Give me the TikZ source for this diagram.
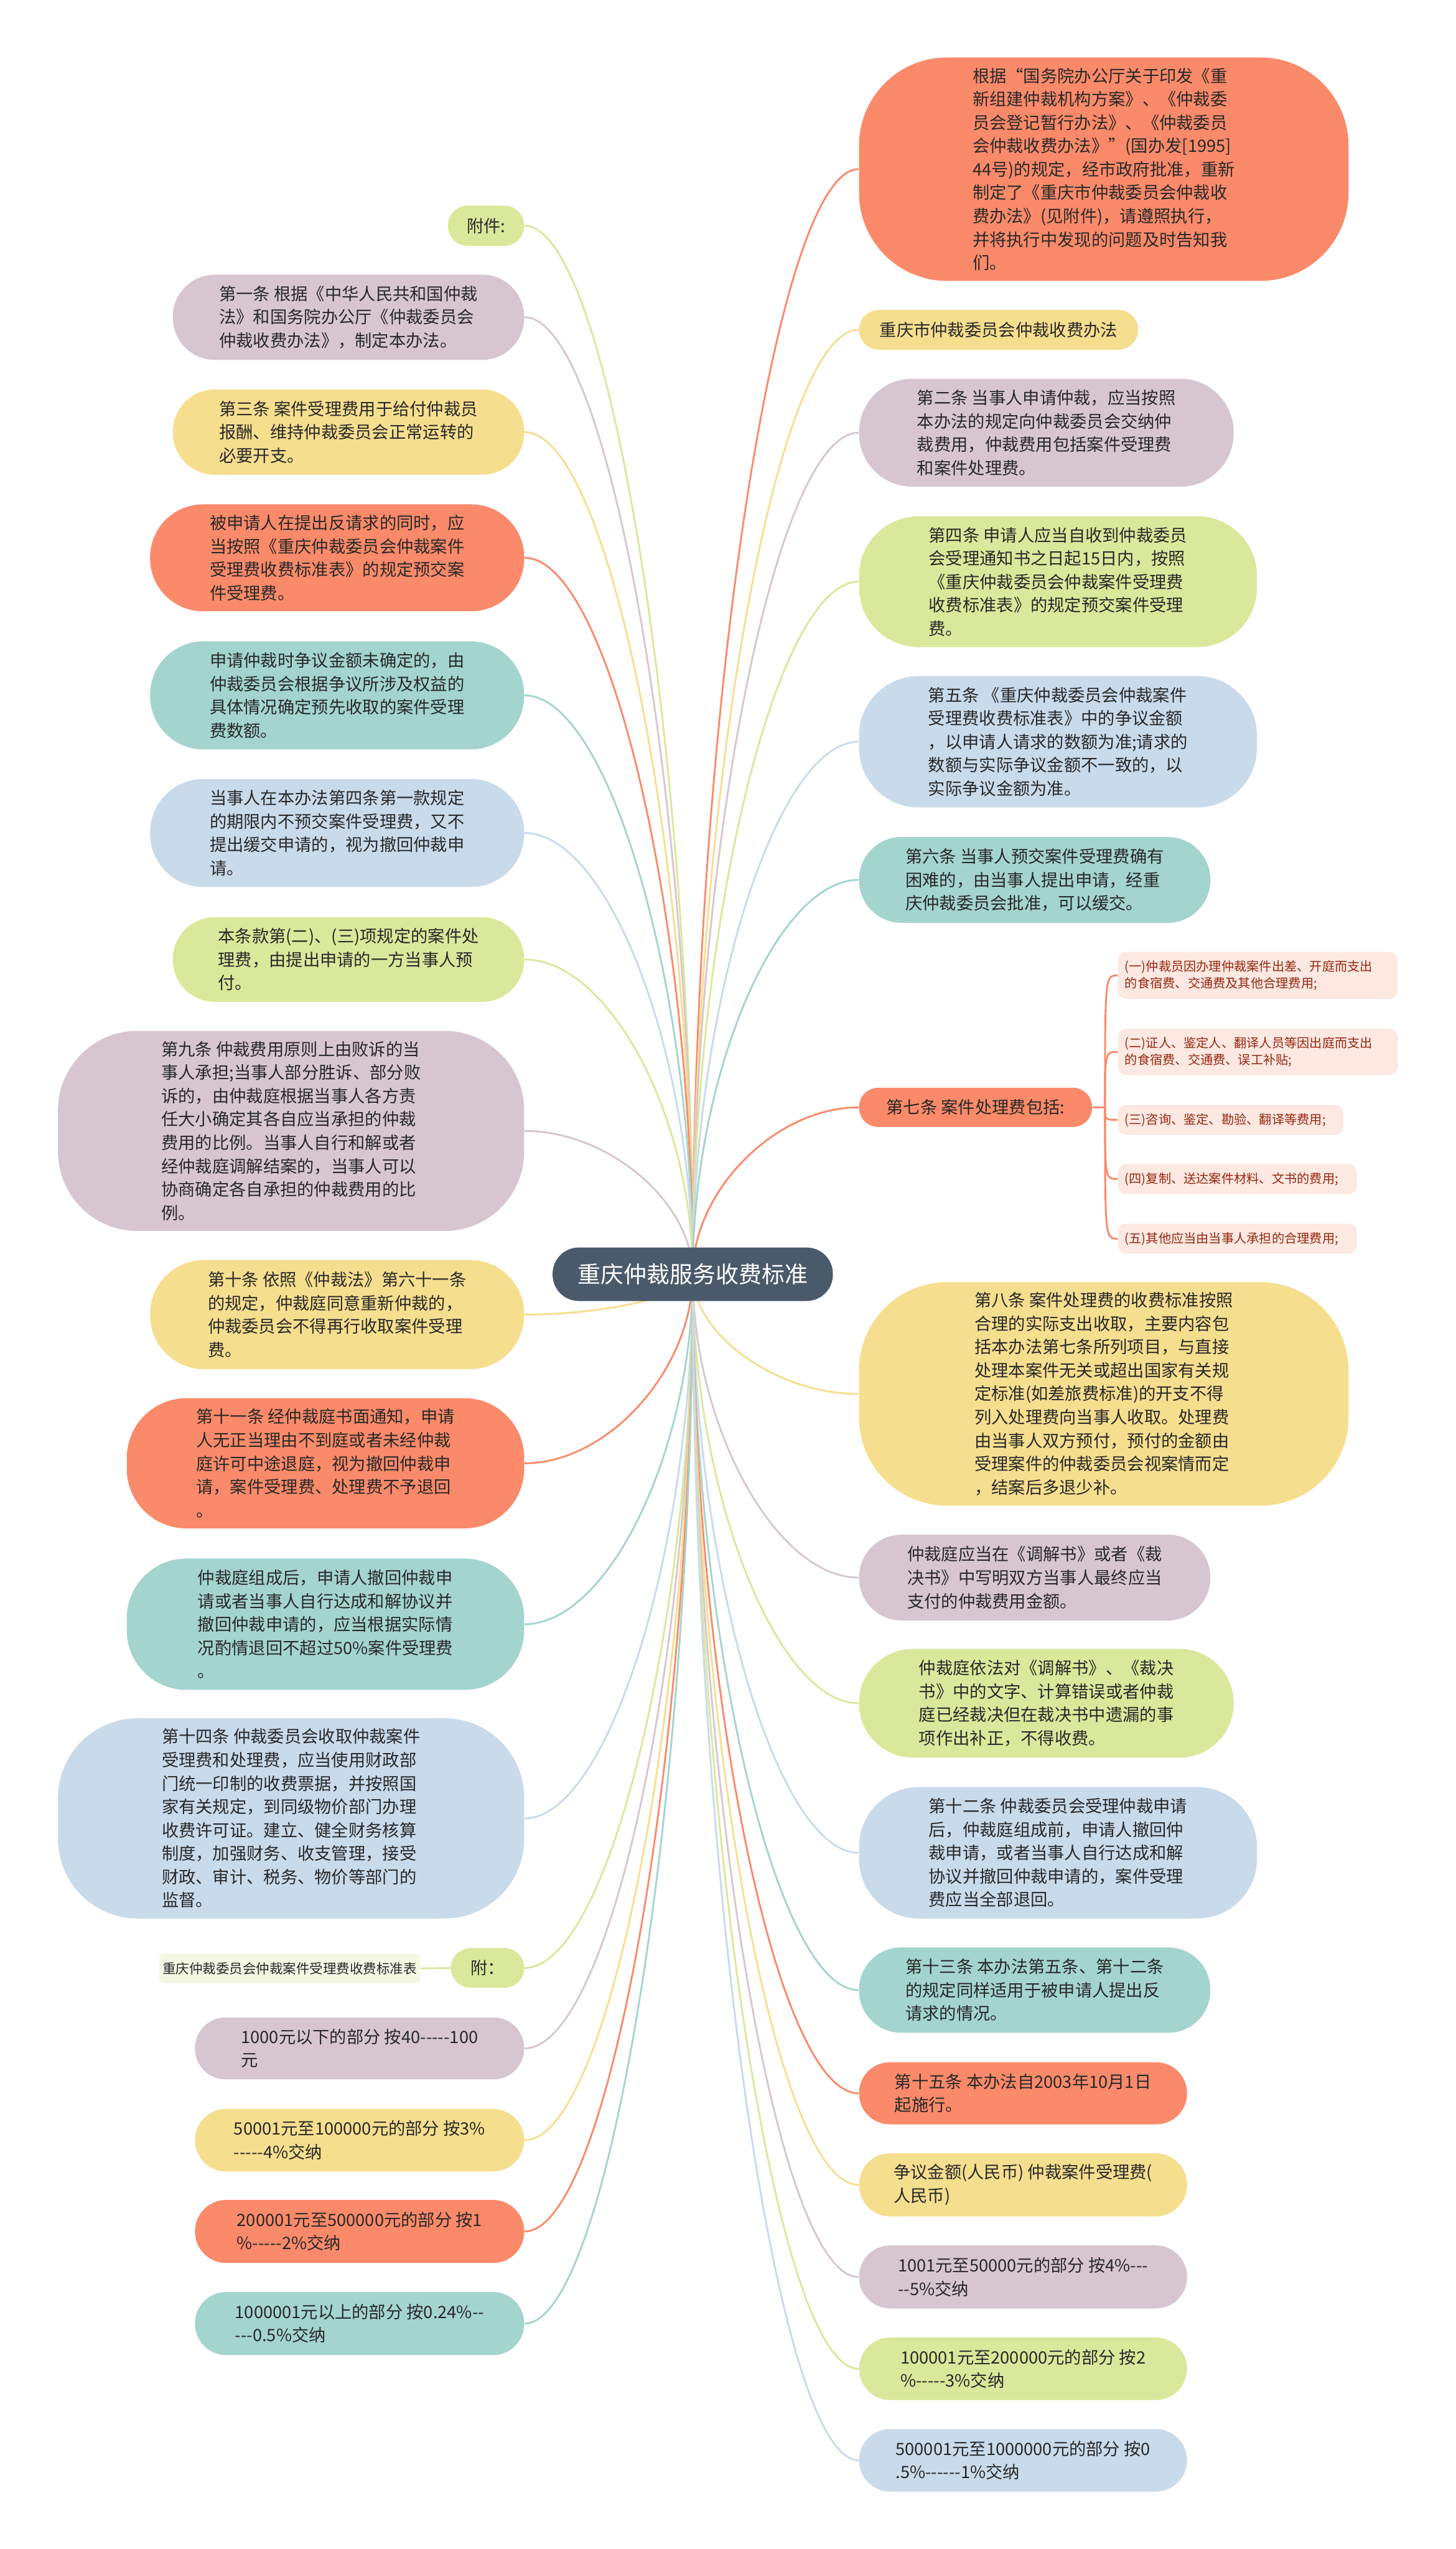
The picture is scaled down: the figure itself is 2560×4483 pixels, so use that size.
\documentclass[tikz,border=0pt]{standalone}
\usepackage{fontspec}
\setmainfont{Noto Sans CJK SC}[Ligatures=TeXOff]
\usetikzlibrary{calc}
\pgfdeclarelayer{bg}
\pgfsetlayers{bg,main}
\definecolor{corange}{RGB}{250,138,106}
\definecolor{cyellow}{RGB}{246,222,143}
\definecolor{cmauve}{RGB}{215,198,208}
\definecolor{cteal}{RGB}{164,212,206}
\definecolor{cblue}{RGB}{201,218,235}
\definecolor{cgreen}{RGB}{218,232,155}
\definecolor{croot}{RGB}{75,90,106}
\definecolor{cpink}{RGB}{253,232,226}
\definecolor{csub}{RGB}{150,40,15}
\definecolor{ctable}{RGB}{243,247,228}
\definecolor{ctext}{RGB}{40,40,40}

\begin{document}
\begin{tikzpicture}[x=0.1mm,y=-0.1mm,
  leaf/.style={fill=#1, align=left, inner sep=0pt, text=ctext, font=\fontsize{8.5}{11.7}\selectfont},
  item/.style={fill=cpink, anchor=west, align=left, inner xsep=1.2mm, inner ysep=0pt, rounded corners=1.5mm, text=csub, font=\fontsize{6.3}{8.5}\selectfont},
  lk/.style={draw=#1, line width=0.9pt},
  branch/.style={to path={.. controls ($(\tikztostart)!0.5!(\tikztostart |- \tikztotarget)$) and ($(\tikztotarget)!0.5!(\tikztostart |- \tikztotarget)$) .. (\tikztotarget)}},
  fork/.style={to path={.. controls (\tikztostart |- \tikztotarget) .. (\tikztotarget)}}]
\useasboundingbox (0,0) rectangle (2560,4483);
\node[fill=croot, text=white, inner sep=0pt, minimum width=49.3mm, minimum height=9.4mm, rounded corners=4.6mm, font=\fontsize{11.5}{14}\selectfont] (root) at (1218.5,2241) {重庆仲裁服务收费标准};
\node[leaf=cgreen, minimum width=13.4mm, minimum height=7.1mm, rounded corners=3.5mm] (l0) at (855,397) {附件:};
\node[leaf=cmauve, minimum width=61.8mm, minimum height=15mm, rounded corners=7.4mm] (l1) at (613,558) {第一条 根据《中华人民共和国仲裁\\法》和国务院办公厅《仲裁委员会\\仲裁收费办法》，制定本办法。};
\node[leaf=cyellow, minimum width=61.8mm, minimum height=15mm, rounded corners=7.4mm] (l2) at (613,760) {第三条 案件受理费用于给付仲裁员\\报酬、维持仲裁委员会正常运转的\\必要开支。};
\node[leaf=corange, minimum width=65.8mm, minimum height=18.8mm, rounded corners=9.3mm] (l3) at (593,981) {被申请人在提出反请求的同时，应\\当按照《重庆仲裁委员会仲裁案件\\受理费收费标准表》的规定预交案\\件受理费。};
\node[leaf=cteal, minimum width=65.8mm, minimum height=19mm, rounded corners=9.4mm] (l4) at (593,1223) {申请仲裁时争议金额未确定的，由\\仲裁委员会根据争议所涉及权益的\\具体情况确定预先收取的案件受理\\费数额。};
\node[leaf=cblue, minimum width=65.8mm, minimum height=19mm, rounded corners=9.4mm] (l5) at (593,1465) {当事人在本办法第四条第一款规定\\的期限内不预交案件受理费，又不\\提出缓交申请的，视为撤回仲裁申\\请。};
\node[leaf=cgreen, minimum width=61.8mm, minimum height=14.9mm, rounded corners=7.4mm] (l6) at (613,1687.5) {本条款第(二)、(三)项规定的案件处\\理费，由提出申请的一方当事人预\\付。};
\node[leaf=cmauve, minimum width=82mm, minimum height=35.2mm, rounded corners=14mm] (l7) at (512,1989) {第九条 仲裁费用原则上由败诉的当\\事人承担;当事人部分胜诉、部分败\\诉的，由仲裁庭根据当事人各方责\\任大小确定其各自应当承担的仲裁\\费用的比例。当事人自行和解或者\\经仲裁庭调解结案的，当事人可以\\协商确定各自承担的仲裁费用的比\\例。};
\node[leaf=cyellow, minimum width=65.8mm, minimum height=19.2mm, rounded corners=9.5mm] (l8) at (593,2312) {第十条 依照《仲裁法》第六十一条\\的规定，仲裁庭同意重新仲裁的，\\仲裁委员会不得再行收取案件受理\\费。};
\node[leaf=corange, minimum width=69.9mm, minimum height=22.9mm, rounded corners=10.5mm] (l9) at (572.5,2573.5) {第十一条 经仲裁庭书面通知，申请\\人无正当理由不到庭或者未经仲裁\\庭许可中途退庭，视为撤回仲裁申\\请，案件受理费、处理费不予退回\\。};
\node[leaf=cteal, minimum width=69.9mm, minimum height=23.1mm, rounded corners=10.5mm] (l10) at (572.5,2856.5) {仲裁庭组成后，申请人撤回仲裁申\\请或者当事人自行达成和解协议并\\撤回仲裁申请的，应当根据实际情\\况酌情退回不超过50\%案件受理费\\。};
\node[leaf=cblue, minimum width=82mm, minimum height=35.2mm, rounded corners=14mm] (l11) at (512,3198) {第十四条 仲裁委员会收取仲裁案件\\受理费和处理费，应当使用财政部\\门统一印制的收费票据，并按照国\\家有关规定，到同级物价部门办理\\收费许可证。建立、健全财务核算\\制度，加强财务、收支管理，接受\\财政、审计、税务、物价等部门的\\监督。};
\node[leaf=cgreen, minimum width=12.9mm, minimum height=7mm, rounded corners=3.5mm] (l12) at (857.5,3461) {附：};
\node[fill=ctable, text=ctext, inner sep=0pt, minimum width=45.9mm, minimum height=5.2mm, rounded corners=0.8mm, font=\fontsize{6.7}{8}\selectfont] (l12t) at (509.5,3462) {重庆仲裁委员会仲裁案件受理费收费标准表};
\node[leaf=cmauve, minimum width=57.9mm, minimum height=10.9mm, rounded corners=5.4mm] (l13) at (632.5,3602.5) {1000元以下的部分 按40-----100\\元};
\node[leaf=cyellow, minimum width=57.9mm, minimum height=11mm, rounded corners=5.5mm] (l14) at (632.5,3764) {50001元至100000元的部分 按3\%\\-----4\%交纳};
\node[leaf=corange, minimum width=57.9mm, minimum height=11.1mm, rounded corners=5.5mm] (l15) at (632.5,3924.5) {200001元至500000元的部分 按1\\\%-----2\%交纳};
\node[leaf=cteal, minimum width=57.9mm, minimum height=11.1mm, rounded corners=5.5mm] (l16) at (632.5,4086.5) {1000001元以上的部分 按0.24\%--\\---0.5\%交纳};
\node[leaf=corange, minimum width=86.1mm, minimum height=39.3mm, rounded corners=15.5mm] (r0) at (1941.5,297.5) {根据“国务院办公厅关于印发《重\\新组建仲裁机构方案》、《仲裁委\\员会登记暂行办法》、《仲裁委员\\会仲裁收费办法》”(国办发[1995]\\44号)的规定，经市政府批准，重新\\制定了《重庆市仲裁委员会仲裁收\\费办法》(见附件)，请遵照执行，\\并将执行中发现的问题及时告知我\\们。};
\node[leaf=cyellow, minimum width=49.1mm, minimum height=7mm, rounded corners=3.5mm] (r1) at (1756.5,580) {重庆市仲裁委员会仲裁收费办法};
\node[leaf=cmauve, minimum width=65.9mm, minimum height=19mm, rounded corners=9.4mm] (r2) at (1840.5,761) {第二条 当事人申请仲裁，应当按照\\本办法的规定向仲裁委员会交纳仲\\裁费用，仲裁费用包括案件受理费\\和案件处理费。};
\node[leaf=cgreen, minimum width=70mm, minimum height=23mm, rounded corners=10.5mm] (r3) at (1861,1023) {第四条 申请人应当自收到仲裁委员\\会受理通知书之日起15日内，按照\\《重庆仲裁委员会仲裁案件受理费\\收费标准表》的规定预交案件受理\\费。};
\node[leaf=cblue, minimum width=70mm, minimum height=23.1mm, rounded corners=10.5mm] (r4) at (1861,1304.5) {第五条 《重庆仲裁委员会仲裁案件\\受理费收费标准表》中的争议金额\\，以申请人请求的数额为准;请求的\\数额与实际争议金额不一致的，以\\实际争议金额为准。};
\node[leaf=cteal, minimum width=61.8mm, minimum height=15.1mm, rounded corners=7.5mm] (r5) at (1820,1547.5) {第六条 当事人预交案件受理费确有\\困难的，由当事人提出申请，经重\\庆仲裁委员会批准，可以缓交。};
\node[leaf=corange, minimum width=41mm, minimum height=6.9mm, rounded corners=3.4mm] (r6) at (1716,1947.5) {第七条 案件处理费包括:};
\coordinate (r6k) at ([xshift=2.2mm]r6.east);
\node[item, text width=46.8mm, minimum height=8.3mm] (s1) at (1966,1715.5) {(一)仲裁员因办理仲裁案件出差、开庭而支出\\的食宿费、交通费及其他合理费用;};
\node[item, text width=46.8mm, minimum height=8.2mm] (s2) at (1966,1850) {(二)证人、鉴定人、翻译人员等因出庭而支出\\的食宿费、交通费、误工补贴;};
\node[item, text width=37.2mm, minimum height=5.3mm] (s3) at (1966,1969.5) {(三)咨询、鉴定、勘验、翻译等费用;};
\node[item, text width=39.6mm, minimum height=5.3mm] (s4) at (1966,2073.5) {(四)复制、送达案件材料、文书的费用;};
\node[item, text width=39.6mm, minimum height=5.3mm] (s5) at (1966,2178.5) {(五)其他应当由当事人承担的合理费用;};
\node[leaf=cyellow, minimum width=86.1mm, minimum height=39.3mm, rounded corners=15.5mm] (r7) at (1941.5,2451.5) {第八条 案件处理费的收费标准按照\\合理的实际支出收取，主要内容包\\括本办法第七条所列项目，与直接\\处理本案件无关或超出国家有关规\\定标准(如差旅费标准)的开支不得\\列入处理费向当事人收取。处理费\\由当事人双方预付，预付的金额由\\受理案件的仲裁委员会视案情而定\\，结案后多退少补。};
\node[leaf=cmauve, minimum width=61.8mm, minimum height=15.1mm, rounded corners=7.5mm] (r8) at (1820,2774.5) {仲裁庭应当在《调解书》或者《裁\\决书》中写明双方当事人最终应当\\支付的仲裁费用金额。};
\node[leaf=cgreen, minimum width=65.9mm, minimum height=19.1mm, rounded corners=9.5mm] (r9) at (1840.5,2995.5) {仲裁庭依法对《调解书》、《裁决\\书》中的文字、计算错误或者仲裁\\庭已经裁决但在裁决书中遗漏的事\\项作出补正，不得收费。};
\node[leaf=cblue, minimum width=70mm, minimum height=23.1mm, rounded corners=10.5mm] (r10) at (1861,3258.5) {第十二条 仲裁委员会受理仲裁申请\\后，仲裁庭组成前，申请人撤回仲\\裁申请，或者当事人自行达成和解\\协议并撤回仲裁申请的，案件受理\\费应当全部退回。};
\node[leaf=cteal, minimum width=61.8mm, minimum height=15mm, rounded corners=7.4mm] (r11) at (1820,3500) {第十三条 本办法第五条、第十二条\\的规定同样适用于被申请人提出反\\请求的情况。};
\node[leaf=corange, minimum width=57.7mm, minimum height=10.9mm, rounded corners=5.4mm] (r12) at (1799.5,3681.5) {第十五条 本办法自2003年10月1日\\起施行。};
\node[leaf=cyellow, minimum width=57.7mm, minimum height=11.1mm, rounded corners=5.5mm] (r13) at (1799.5,3842.5) {争议金额(人民币) 仲裁案件受理费(\\人民币)};
\node[leaf=cmauve, minimum width=57.7mm, minimum height=11.1mm, rounded corners=5.5mm] (r14) at (1799.5,4004.5) {1001元至50000元的部分 按4\%---\\--5\%交纳};
\node[leaf=cgreen, minimum width=57.7mm, minimum height=11mm, rounded corners=5.5mm] (r15) at (1799.5,4166) {100001元至200000元的部分 按2\\\%-----3\%交纳};
\node[leaf=cblue, minimum width=57.7mm, minimum height=11mm, rounded corners=5.5mm] (r16) at (1799.5,4327) {500001元至1000000元的部分 按0\\.5\%------1\%交纳};
\begin{pgfonlayer}{bg}
\fill[white] (0,0) rectangle (2560,4483);
\draw[lk=cgreen] (root.center) to[branch] (l0.east);
\draw[lk=cmauve] (root.center) to[branch] (l1.east);
\draw[lk=cyellow] (root.center) to[branch] (l2.east);
\draw[lk=corange] (root.center) to[branch] (l3.east);
\draw[lk=cteal] (root.center) to[branch] (l4.east);
\draw[lk=cblue] (root.center) to[branch] (l5.east);
\draw[lk=cgreen] (root.center) to[branch] (l6.east);
\draw[lk=cmauve] (root.center) to[branch] (l7.east);
\draw[lk=cyellow] (root.center) to[branch] (l8.east);
\draw[lk=corange] (root.center) to[branch] (l9.east);
\draw[lk=cteal] (root.center) to[branch] (l10.east);
\draw[lk=cblue] (root.center) to[branch] (l11.east);
\draw[lk=cgreen] (root.center) to[branch] (l12.east);
\draw[lk=cgreen] (l12.west) -- (l12t.east);
\draw[lk=cmauve] (root.center) to[branch] (l13.east);
\draw[lk=cyellow] (root.center) to[branch] (l14.east);
\draw[lk=corange] (root.center) to[branch] (l15.east);
\draw[lk=cteal] (root.center) to[branch] (l16.east);
\draw[lk=corange] (root.center) to[branch] (r0.west);
\draw[lk=cyellow] (root.center) to[branch] (r1.west);
\draw[lk=cmauve] (root.center) to[branch] (r2.west);
\draw[lk=cgreen] (root.center) to[branch] (r3.west);
\draw[lk=cblue] (root.center) to[branch] (r4.west);
\draw[lk=cteal] (root.center) to[branch] (r5.west);
\draw[lk=corange] (root.center) to[branch] (r6.west);
\draw[lk=corange] (r6.east) -- (r6k);
\draw[lk=corange] (r6k) to[fork] (s1.west);
\draw[lk=corange] (r6k) to[fork] (s2.west);
\draw[lk=corange] (r6k) to[fork] (s3.west);
\draw[lk=corange] (r6k) to[fork] (s4.west);
\draw[lk=corange] (r6k) to[fork] (s5.west);
\draw[lk=cyellow] (root.center) to[branch] (r7.west);
\draw[lk=cmauve] (root.center) to[branch] (r8.west);
\draw[lk=cgreen] (root.center) to[branch] (r9.west);
\draw[lk=cblue] (root.center) to[branch] (r10.west);
\draw[lk=cteal] (root.center) to[branch] (r11.west);
\draw[lk=corange] (root.center) to[branch] (r12.west);
\draw[lk=cyellow] (root.center) to[branch] (r13.west);
\draw[lk=cmauve] (root.center) to[branch] (r14.west);
\draw[lk=cgreen] (root.center) to[branch] (r15.west);
\draw[lk=cblue] (root.center) to[branch] (r16.west);
\end{pgfonlayer}
\end{tikzpicture}
\end{document}
